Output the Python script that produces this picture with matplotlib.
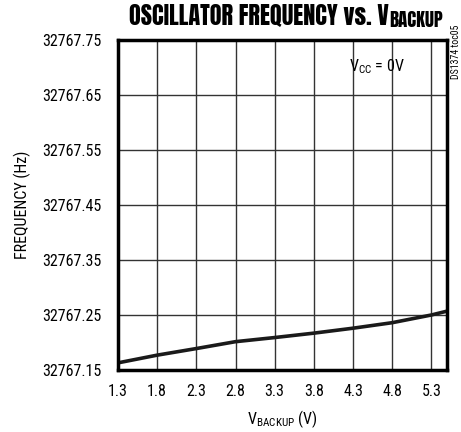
import matplotlib
matplotlib.use("Agg")
import matplotlib.pyplot as plt
from matplotlib.ticker import FixedLocator, FormatStrFormatter

v_backup = [1.3, 1.8, 2.3, 2.8, 3.3, 3.8, 4.3, 4.8, 5.3, 5.5]
freq = [32767.163, 32767.177, 32767.189, 32767.2015, 32767.209,
        32767.217, 32767.226, 32767.236, 32767.250, 32767.257]
x_ticks = [1.3, 1.8, 2.3, 2.8, 3.3, 3.8, 4.3, 4.8, 5.3]
y_ticks = [32767.15, 32767.25, 32767.35, 32767.45, 32767.55, 32767.65, 32767.75]

FONT = 'Roboto Condensed'
plt.rcParams['font.family'] = [FONT, 'DejaVu Sans']
plt.rcParams['mathtext.fontset'] = 'custom'
plt.rcParams['mathtext.rm'] = FONT

W, H = 461, 432
fig = plt.figure(figsize=(W/100, H/100), dpi=100)
ax = fig.add_axes([118/W, 1-370/H, (447-118)/W, (370-40)/H])

ax.plot(v_backup, freq, color='#1a1a1a', lw=2.6, solid_capstyle='butt')
ax.set_xlim(1.3, 5.5)
ax.set_ylim(32767.15, 32767.75)
ax.xaxis.set_major_locator(FixedLocator(x_ticks))
ax.yaxis.set_major_locator(FixedLocator(y_ticks))
ax.yaxis.set_major_formatter(FormatStrFormatter('%.2f'))
ax.grid(True, color='#333333', lw=1.0)
ax.tick_params(length=0, labelsize=11.5)
ax.tick_params(axis='y', pad=12)
ax.tick_params(axis='x', pad=10)
for s in ax.spines.values():
    s.set_linewidth(2.5)
    s.set_color('black')

ax.set_xlabel('V$_{\\mathregular{BACKUP}}$ (V)', fontsize=11.5, labelpad=7)
ax.set_ylabel('FREQUENCY (Hz)', fontsize=11.5, labelpad=8)
ax.text(0.872, 0.918, 'V$_{\\mathregular{CC}}$ = 0V', transform=ax.transAxes,
        ha='right', va='center', fontsize=11.5)
fig.text(456/W, 1-52/H, 'DS1374 toc05', rotation=90, ha='center', va='center',
         fontsize=7)

# title: main part + subscript "BACKUP"
r = fig.canvas.get_renderer()
sub = fig.text(443/W, 1-27/H, 'BACKUP', ha='right', va='baseline',
               fontsize=13.5, family='Anton')
fig.canvas.draw()
bb = sub.get_window_extent(r)
fig.text(bb.x0/W - 0.002, 1-25/H, 'OSCILLATOR FREQUENCY vs. V', ha='right', va='baseline',
         fontsize=17.5, family='Anton')

fig.savefig('out.png', dpi=100)
